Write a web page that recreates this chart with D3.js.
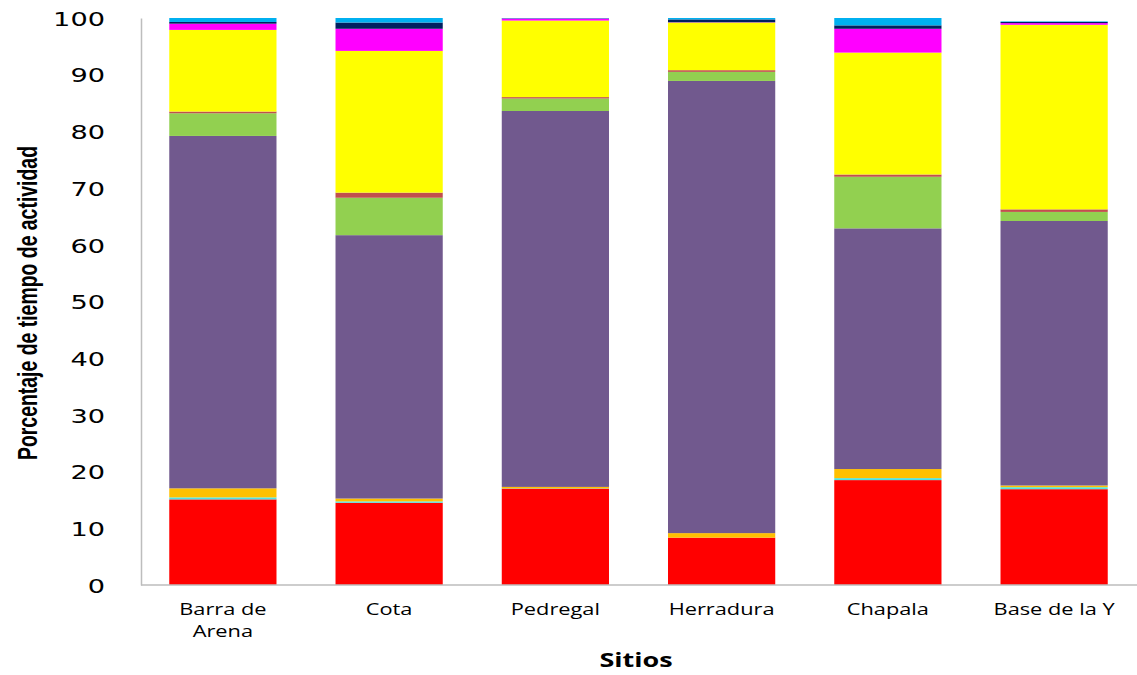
<!DOCTYPE html>
<html lang="es">
<head>
  <meta charset="utf-8">
  <title>Porcentaje de tiempo de actividad por sitio</title>
  <style>
    body { margin: 0; background: #fff; }
    svg { display: block; }
  </style>
</head>
<body>
  <script src="https://cdnjs.cloudflare.com/ajax/libs/d3/7.8.5/d3.min.js"></script>
  <script type="text/javascript">
  // sites (x categories)
  const sitios = ["Barra de Arena", "Cota", "Pedregal", "Herradura", "Chapala", "Base de la Y"];
  const sitioLines = [["Barra de", "Arena"], ["Cota"], ["Pedregal"], ["Herradura"], ["Chapala"], ["Base de la Y"]];

  // activity series, stacked bottom -> top (percent per site)
  const sRojo     = [15.1, 14.5, 17.0,  8.35, 18.5, 16.9];
  const sCian     = [0.35, 0.25, 0.05,  0.0,  0.35, 0.35];
  const sNaranja  = [1.6,  0.5,  0.25,  0.8,  1.6,  0.3];
  const sMorado   = [62.15, 46.45, 66.3, 79.75, 42.45, 46.65];
  const sVerde    = [4.0,  6.6,  2.2,   1.6,  9.1,  1.6];
  const sCafe     = [0.3,  0.9,  0.25,  0.3,  0.4,  0.45];
  const sAmarillo = [14.4, 25.0, 13.5,  8.4,  21.5, 32.55];
  const sMagenta  = [1.1,  3.9,  0.35,  0.05, 4.2,  0.3];
  const sMarino   = [0.3,  1.1,  0.05,  0.5,  0.6,  0.2];
  const sCeleste  = [0.7,  0.8,  0.05,  0.25, 1.3,  0.1];

  const yTicks = [0, 10, 20, 30, 40, 50, 60, 70, 80, 90, 100];

  const series = [
    { key: "rojo", values: sRojo, color: "#FF0000" },
    { key: "cian", values: sCian, color: "#4FE3E3" },
    { key: "naranja", values: sNaranja, color: "#FFC000" },
    { key: "morado", values: sMorado, color: "#71598E" },
    { key: "verde", values: sVerde, color: "#92D050" },
    { key: "cafe", values: sCafe, color: "#C0504D" },
    { key: "amarillo", values: sAmarillo, color: "#FFFF00" },
    { key: "magenta", values: sMagenta, color: "#FF00FF" },
    { key: "marino", values: sMarino, color: "#002060" },
    { key: "celeste", values: sCeleste, color: "#00B0F0" }
  ];

  const width = 1137;
  const height = 675;
  const plot = { left: 141, right: 1137, top: 18, bottom: 585 };
  const stretch = 1.32; // text in the original is drawn wide

  // table for d3.stack
  const table = sitios.map((s, i) => {
    const row = { sitio: s };
    series.forEach((d) => { row[d.key] = d.values[i]; });
    return row;
  });

  const stacked = d3.stack().keys(series.map((d) => d.key))(table);

  const xScale = d3.scaleBand()
  .domain(sitios)
  .range([plot.left, 1136])
  .paddingInner(0.355)
  .paddingOuter(0.17);

  const yScale = d3.scaleLinear()
  .domain([0, 100])
  .range([plot.bottom, plot.top]);

  const svg = d3.select("body")
  .append("svg")
  .attr("width", width)
  .attr("height", height);

  // bars
  svg.append("g")
  .selectAll("g")
  .data(stacked)
  .enter()
  .append("g")
  .attr("fill", (d, i) => series[i].color)
  .selectAll("rect")
  .data((d) => d)
  .enter()
  .append("rect")
  .attr("x", (d) => xScale(d.data.sitio))
  .attr("width", xScale.bandwidth())
  .attr("y", (d) => yScale(d[1]))
  .attr("height", (d) => Math.max(0, yScale(d[0]) - yScale(d[1])));

  // axes
  const yAxis = d3.axisLeft(yScale).tickValues(yTicks).tickSize(0).tickPadding(36);
  const gy = svg.append("g")
  .attr("transform", `translate(${plot.left},0)`)
  .call(yAxis);
  gy.select(".domain").attr("stroke", "#BDBDBD").attr("stroke-width", 1.5);
  gy.selectAll("text")
  .attr("font-family", "DejaVu Sans")
  .attr("font-size", 20)
  .attr("fill", "#000")
  .attr("dy", "0.36em")
  .attr("textLength", (d) => String(d).length * 17.3)
  .attr("lengthAdjust", "spacingAndGlyphs");

  svg.append("line")
  .attr("x1", plot.left)
  .attr("x2", plot.right)
  .attr("y1", plot.bottom)
  .attr("y2", plot.bottom)
  .attr("stroke", "#BDBDBD")
  .attr("stroke-width", 1.5);

  // category labels
  const catLabels = svg.append("g")
  .selectAll("text")
  .data(sitios)
  .enter()
  .append("text")
  .attr("x", (d) => xScale(d) + xScale.bandwidth() / 2)
  .attr("y", 615)
  .attr("text-anchor", "middle")
  .attr("font-family", "Open Sans")
  .attr("font-size", 16.5)
  .attr("fill", "#000");

  catLabels.selectAll("tspan")
  .data((d, i) => sitioLines[i])
  .enter()
  .append("tspan")
  .attr("x", function () { return d3.select(this.parentNode).attr("x"); })
  .attr("dy", (d, i) => i === 0 ? 0 : 22)
  .text((d) => d)
  .each(function () {
    const w = this.getComputedTextLength();
    d3.select(this).attr("textLength", w * stretch).attr("lengthAdjust", "spacingAndGlyphs");
  });

  // axis titles
  const xTitle = svg.append("text")
  .attr("x", 636)
  .attr("y", 667)
  .attr("text-anchor", "middle")
  .attr("font-family", "Open Sans")
  .attr("font-weight", "bold")
  .attr("font-size", 20)
  .text("Sitios");
  xTitle.attr("textLength", xTitle.node().getComputedTextLength() * 1.35)
  .attr("lengthAdjust", "spacingAndGlyphs");

  svg.append("text")
  .attr("transform", "translate(37,303) rotate(-90)")
  .attr("text-anchor", "middle")
  .attr("font-family", "Liberation Sans Narrow, Liberation Sans")
  .attr("font-weight", "bold")
  .attr("font-size", 28)
  .attr("textLength", 314)
  .attr("lengthAdjust", "spacingAndGlyphs")
  .text("Porcentaje de tiempo de actividad");
  </script>
</body>
</html>
